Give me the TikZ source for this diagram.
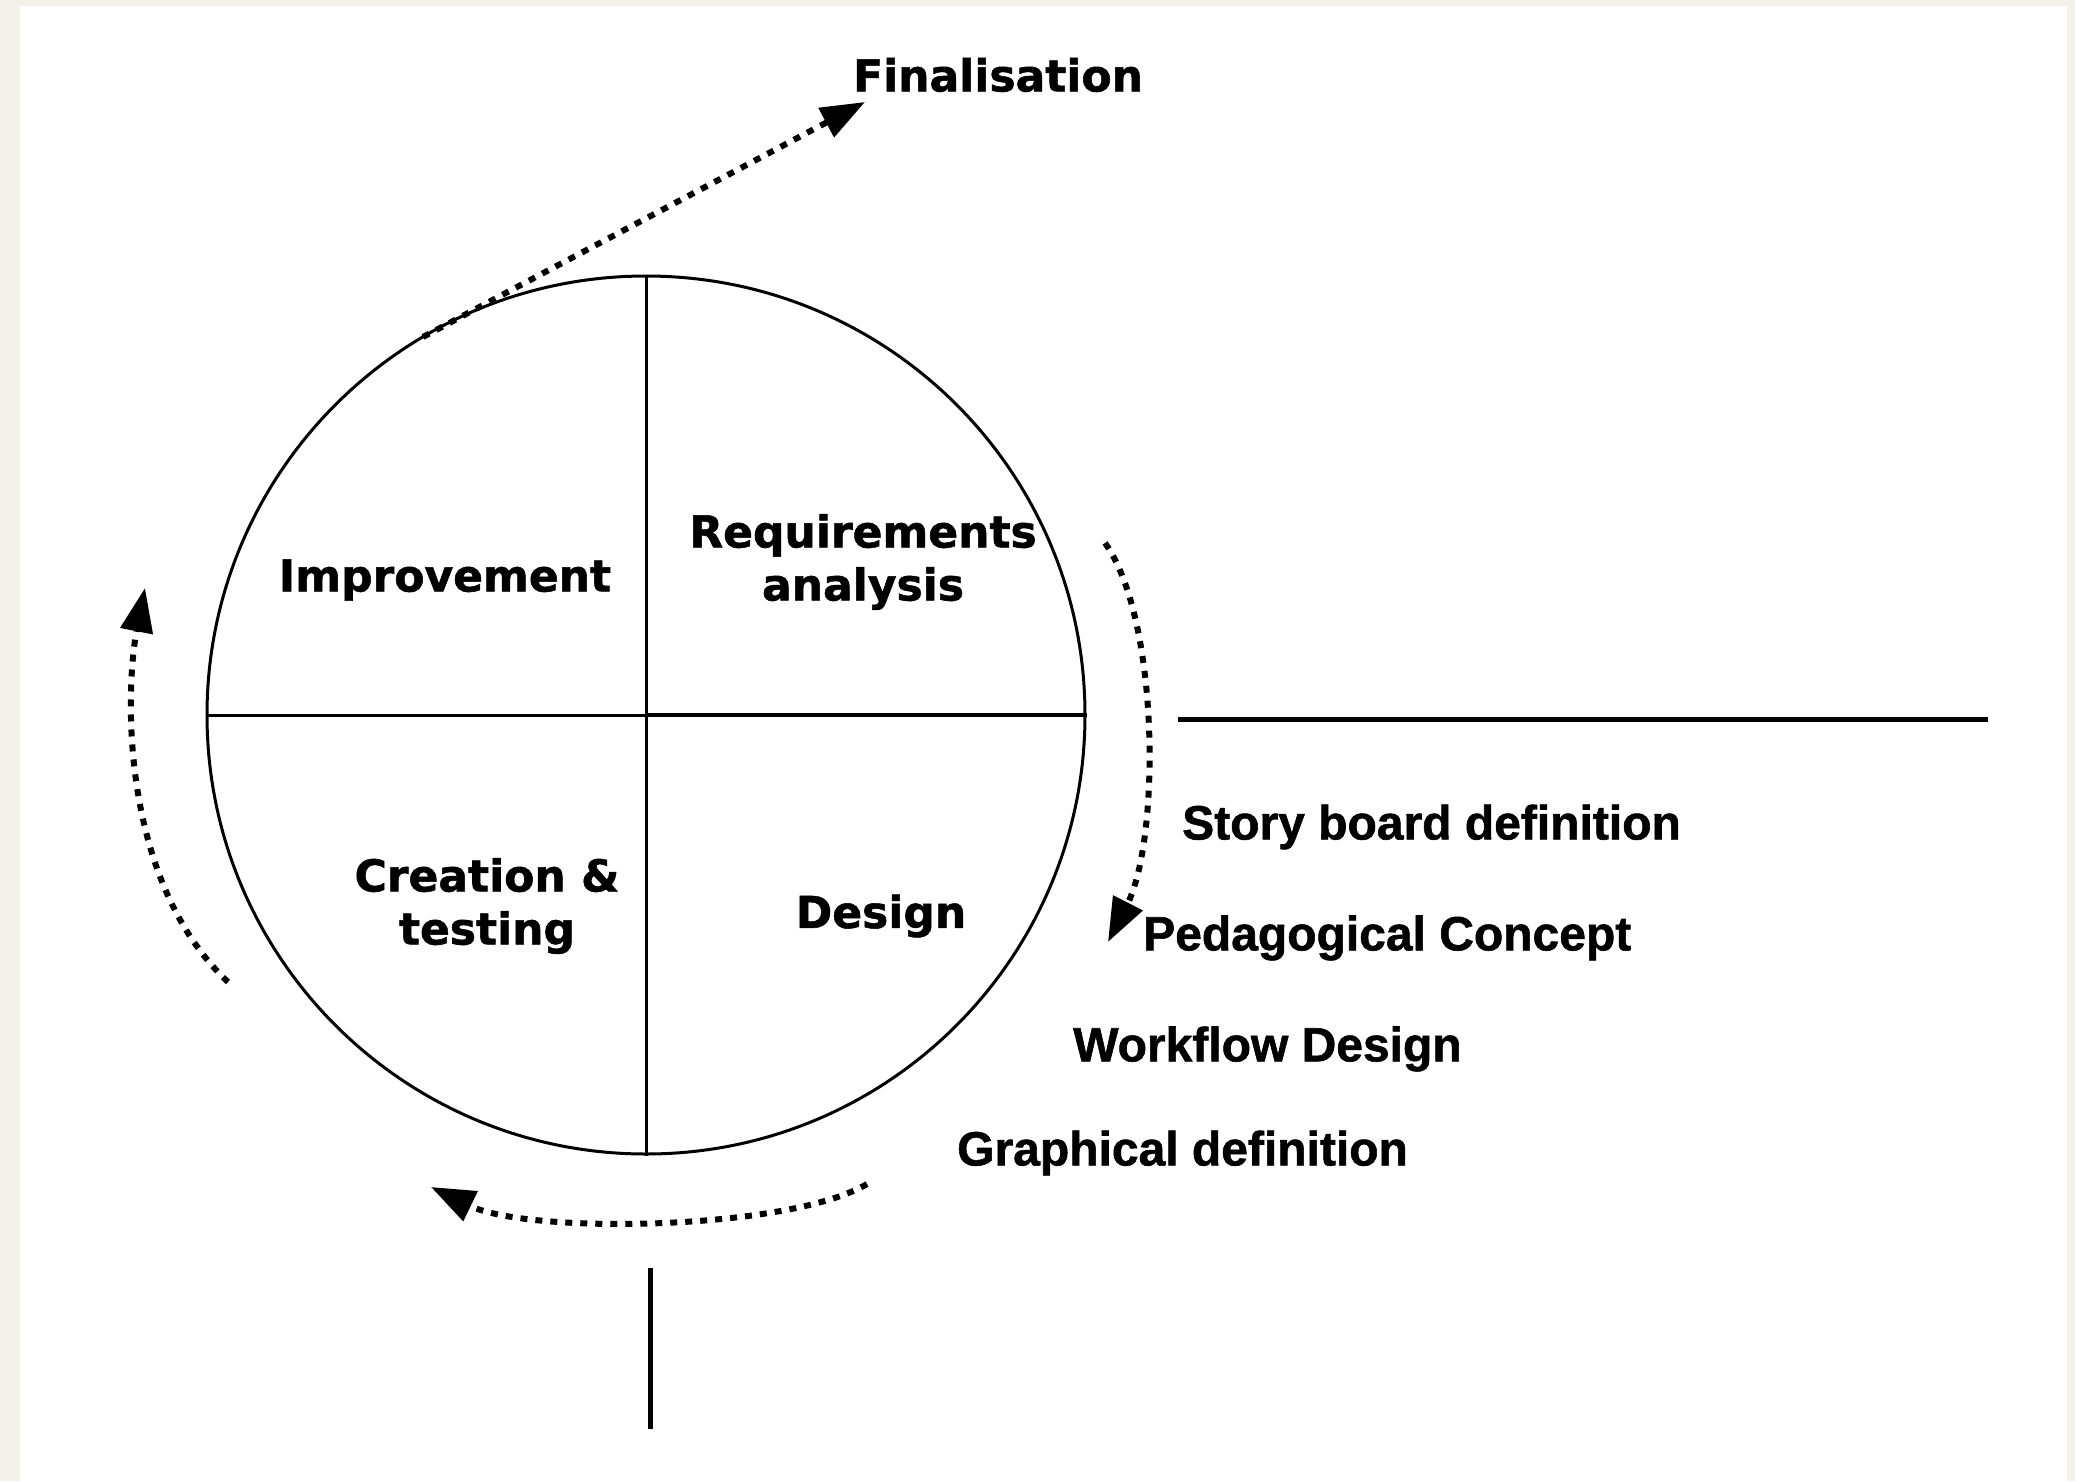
\documentclass[tikz,border=0pt]{standalone}
\usepackage{fontspec}
\newfontfamily\circfont{DejaVu Sans}[BoldFeatures={FakeBold=1.2}]
\newfontfamily\sidefont{Liberation Sans}[BoldFeatures={FakeBold=1.2}]
\usetikzlibrary{arrows.meta}
\definecolor{cream}{HTML}{F4F1EA}
\begin{document}
\begin{tikzpicture}[x=1pt,y=-1pt,
  ring/.style={circle, draw, line width=3pt, minimum size=878pt, inner sep=0pt},
  quad/.style={font=\circfont\bfseries\fontsize{44}{53}\selectfont, align=center, inner sep=0pt},
  side/.style={font=\sidefont\bfseries\fontsize{48}{56}\selectfont, anchor=west, inner sep=0pt},
  flow/.style={line width=6pt, dash pattern=on 7pt off 8pt, -{Triangle[length=44pt,width=32pt]}},
  barline/.style={line width=5pt},
  crossline/.style={line width=3pt}
]
\useasboundingbox (0,0) rectangle (2075,1481);
\fill[cream] (0,0) rectangle (2075,1481);
\fill[white] (20,6) rectangle (2067,1481);

\node[ring] (C) at (646,715) {};
\draw[crossline] (C.west) -- (C.center);
\draw[line width=4pt] (C.center) -- (C.east);
\draw[crossline] (C.north) -- (C.south);

\node[quad] (imp) at (445,580) {Improvement};
\node[quad] (req) at (863,562) {Requirements\\analysis};
\node[quad] (cre) at (487,906) {Creation \&\\testing};
\node[quad] (des) at (881,916) {Design};
\node[quad] (fin) at (998,75) {Finalisation};

\node[side] (sb) at (1182,827) {Story board definition};
\node[side] (pc) at (1143,938) {Pedagogical Concept};
\node[side] (wd) at (1073,1049) {Workflow Design};
\node[side] (gd) at (957,1153) {Graphical definition};

\coordinate (h0) at (1178,719);
\coordinate (h1) at (1988,719);
\draw[barline] (h0) -- (h1);
\coordinate (v0) at (650,1268);
\coordinate (v1) at (650,1429);
\draw[barline] (v0) -- (v1);

\coordinate (f0) at (423,337);
\coordinate (f1) at (865,102);
\draw[flow] (f0) -- (f1);

\coordinate (r0) at (1105,543);
\coordinate (r1) at (1108,942);
\draw[flow] (r0) .. controls (1160,620) and (1160,840) .. (r1);

\coordinate (b0) at (867,1184);
\coordinate (b1) at (431,1187);
\draw[flow] (b0) .. controls (790,1230) and (530,1235) .. (b1);

\coordinate (l0) at (228,982);
\coordinate (l1) at (145,588);
\draw[flow] (l0) .. controls (120,880) and (125,690) .. (l1);
\end{tikzpicture}
\end{document}
